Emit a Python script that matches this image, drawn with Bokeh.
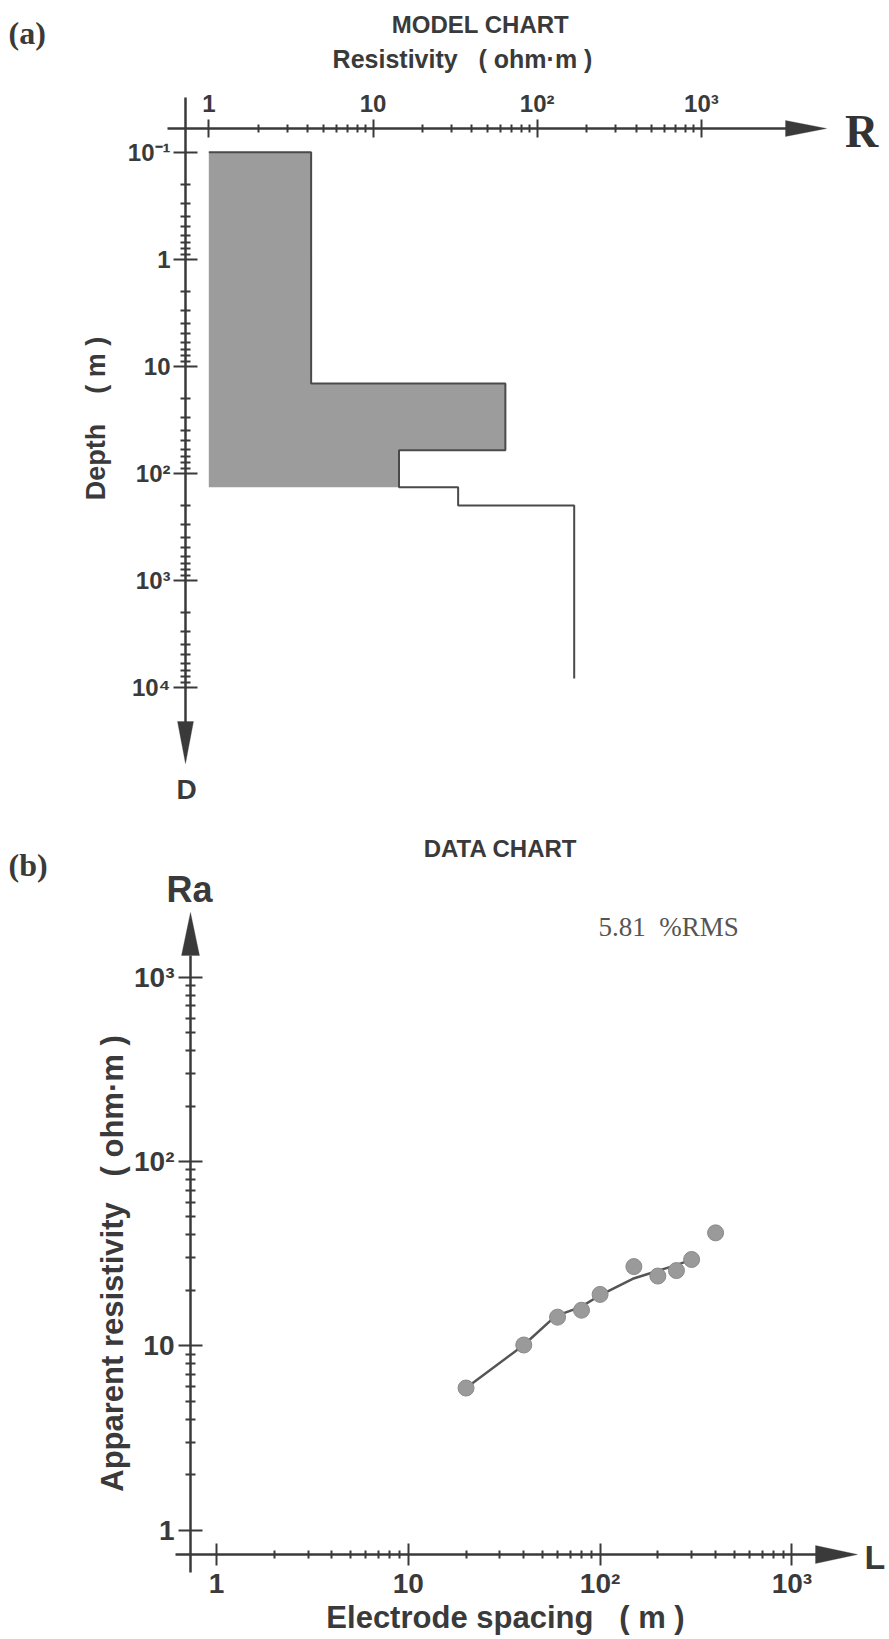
import math
from bokeh.plotting import figure
from bokeh.models import Range1d, FixedTicker, Label, Arrow, PolyAnnotation, CustomJSTickFormatter
from bokeh.layouts import column
from bokeh.embed import file_html
from bokeh.resources import INLINE

# ---------------- data ----------------
# Model chart (layered earth model)
layer_resistivity = [4.2, 64.0, 14.4, 33.0, 168.0]      # ohm·m
layer_bottom_depth = [14.5, 61.0, 135.0, 200.0]         # m
model_top_depth = 0.1
model_end_depth = 8300.0
filled_layers = 3

# Data chart (sounding curve)
spacing = [20, 40, 60, 80, 100, 150, 200, 250, 300, 400]
apparent_res = [5.9, 10.1, 14.3, 15.6, 19.0, 26.9, 23.9, 25.6, 29.4, 41.0]
fit_spacing = [20, 40, 58.5, 79, 99, 148, 197, 247, 290]
fit_res = [5.9, 10.1, 14.5, 16.2, 18.7, 23.1, 25.4, 27.3, 29.0]

res_majors = [1, 10, 100, 1000]
depth_majors = [0.1, 1, 10, 100, 1000, 10000]
rms_text = "5.81\u00a0\u00a0%RMS"

INK = "#3a3a3a"
SANS = "Liberation Sans"
SERIF = "Liberation Serif"
NB = "\u00a0"

fmt_code = """
const e = Math.round(Math.log10(tick));
if (e === 0) return "1";
if (e === 1) return "10";
const sup = {"-1": "\u207b\u00b9", "2": "\u00b2", "3": "\u00b3", "4": "\u2074"};
return "10" + sup[String(e)];
"""


def minors(d0, d1):
    return [k * 10 ** d for d in range(d0, d1 + 1) for k in range(2, 10)]


def style_axis(ax, tick_size, maj, mnr, lab_off):
    ax.axis_line_color = None
    ax.major_tick_line_color = INK
    ax.major_tick_line_width = 2
    ax.minor_tick_line_color = INK
    ax.minor_tick_line_width = 2
    ax.major_tick_in = maj
    ax.major_tick_out = maj
    ax.minor_tick_in = mnr
    ax.minor_tick_out = mnr
    ax.major_label_text_font = SANS
    ax.major_label_text_font_style = "bold"
    ax.major_label_text_font_size = tick_size
    ax.major_label_text_color = INK
    ax.major_label_standoff = lab_off
    ax.formatter = CustomJSTickFormatter(code=fmt_code)


def label(p, x, y, text, size, font=SANS, style="bold", align="center", color=INK, angle=0.0):
    p.add_layout(Label(x=x, y=y, text=text, text_font=font, text_font_style=style,
                       text_font_size=size, text_color=color, text_align=align,
                       text_baseline="middle", angle=angle))


def base_figure(w, h, xr, yr, x_loc):
    p = figure(width=w, height=h, x_axis_type="log", y_axis_type="log",
               x_axis_location=x_loc, x_range=xr, y_range=yr,
               output_backend="svg", toolbar_location=None, min_border=0)
    p.grid.visible = False
    p.outline_line_color = None
    return p


# ---------------- (a) MODEL CHART ----------------
def tx(X):
    return 10 ** ((X - 208.3) / 164.2)


def ty(Y):
    return 10 ** (-1 + (Y - 151.7) / 107.0)


H1 = 810
p1 = base_figure(889, H1, Range1d(tx(0), tx(889)), Range1d(ty(H1), ty(0)), "above")
p1.xaxis.ticker = FixedTicker(ticks=res_majors, minor_ticks=minors(0, 2))
p1.yaxis.ticker = FixedTicker(ticks=depth_majors, minor_ticks=minors(-1, 3))
style_axis(p1.xaxis[0], "24px", 9, 4, 3)
style_axis(p1.yaxis[0], "24px", 12, 5, 3)
p1.xaxis.fixed_location = ty(128)
p1.yaxis.fixed_location = tx(185)

# filled part of the model (upper layers)
fill_x = [1.0]
fill_y = [model_top_depth]
prev = model_top_depth
for i in range(filled_layers):
    fill_x += [layer_resistivity[i], layer_resistivity[i]]
    fill_y += [prev, layer_bottom_depth[i]]
    prev = layer_bottom_depth[i]
fill_x.append(1.0)
fill_y.append(prev)
p1.patch(fill_x, fill_y, fill_color="#9c9c9c", line_color=None)

# full model step line
step_x = [1.0]
step_y = [model_top_depth]
prev = model_top_depth
for i, r in enumerate(layer_resistivity):
    bottom = layer_bottom_depth[i] if i < len(layer_bottom_depth) else model_end_depth
    step_x += [r, r]
    step_y += [prev, bottom]
    prev = bottom
p1.line(step_x, step_y, line_color="#4a4a4a", line_width=2)

# axis lines with arrow heads
p1.add_layout(Arrow(start=None, end=None, x_start=tx(167), y_start=ty(128), x_end=tx(790), y_end=ty(128),
                    line_color=INK, line_width=2.5))
p1.add_layout(PolyAnnotation(xs=[tx(785), tx(826), tx(785)], ys=[ty(120), ty(128), ty(136)],
                             fill_color=INK, fill_alpha=1, line_color=INK, line_width=1))
p1.add_layout(Arrow(start=None, end=None, x_start=tx(185), y_start=ty(97), x_end=tx(185), y_end=ty(725),
                    line_color=INK, line_width=2.5))
p1.add_layout(PolyAnnotation(xs=[tx(177), tx(185), tx(193)], ys=[ty(721), ty(763), ty(721)],
                             fill_color=INK, fill_alpha=1, line_color=INK, line_width=1))

label(p1, tx(480), ty(24), "MODEL CHART", "24px")
label(p1, tx(8), ty(32), "(a)", "32px", font=SERIF, align="left")
label(p1, tx(462), ty(58), "Resistivity" + NB * 3 + "( ohm\u00b7m )", "25px")
label(p1, tx(95), ty(418), "Depth" + NB * 4 + "( m )", "27px", angle=math.pi / 2)
label(p1, tx(861), ty(131), "R", "46px", font=SERIF, color="#333333")
label(p1, tx(186), ty(789), "D", "28px")

# ---------------- (b) DATA CHART ----------------
TOP2 = 810
H2 = 1639 - TOP2


def bx(X):
    return 10 ** ((X - 216.0) / 191.8)


def by(Y):
    return 10 ** (1 - (Y - 1345.3) / 184.3)


p2 = base_figure(889, H2, Range1d(bx(0), bx(889)), Range1d(by(1639), by(TOP2)), "below")
p2.xaxis.ticker = FixedTicker(ticks=res_majors, minor_ticks=minors(0, 2))
p2.yaxis.ticker = FixedTicker(ticks=res_majors, minor_ticks=minors(0, 2))
style_axis(p2.xaxis[0], "28px", 11, 4, 2)
style_axis(p2.yaxis[0], "28px", 12, 5, 4)
p2.xaxis.fixed_location = by(1554)
p2.yaxis.fixed_location = bx(190)

p2.line(fit_spacing, fit_res, line_color="#555555", line_width=2.5)
p2.scatter(spacing, apparent_res, size=16, fill_color="#9a9a9a", line_color="#8a8a8a", line_width=1)

p2.add_layout(Arrow(start=None, end=None, x_start=bx(175), y_start=by(1554), x_end=bx(820), y_end=by(1554),
                    line_color=INK, line_width=2.5))
p2.add_layout(PolyAnnotation(xs=[bx(815), bx(857), bx(815)], ys=[by(1545), by(1554), by(1563)],
                             fill_color=INK, fill_alpha=1, line_color=INK, line_width=1))
p2.add_layout(Arrow(start=None, end=None, x_start=bx(190), y_start=by(1572), x_end=bx(190), y_end=by(955),
                    line_color=INK, line_width=2.5))
p2.add_layout(PolyAnnotation(xs=[bx(181), bx(190), bx(199)], ys=[by(955), by(912), by(955)],
                             fill_color=INK, fill_alpha=1, line_color=INK, line_width=1))

label(p2, bx(500), by(848), "DATA CHART", "24px")
label(p2, bx(8), by(864), "(b)", "32px", font=SERIF, align="left")
label(p2, bx(189), by(889), "Ra", "36px")
label(p2, bx(864), by(1556), "L", "34px", align="left")
label(p2, bx(598), by(926), rms_text, "27px", font=SERIF, style="normal", align="left", color="#555555")
label(p2, bx(505), by(1617), "Electrode spacing" + NB * 3 + "( m )", "31px")
label(p2, bx(112), by(1263), "Apparent resistivity" + NB * 3 + "( ohm\u00b7m )", "31px", angle=math.pi / 2)

layout = column(p1, p2)
open("out.html", "w").write(file_html(layout, INLINE))
